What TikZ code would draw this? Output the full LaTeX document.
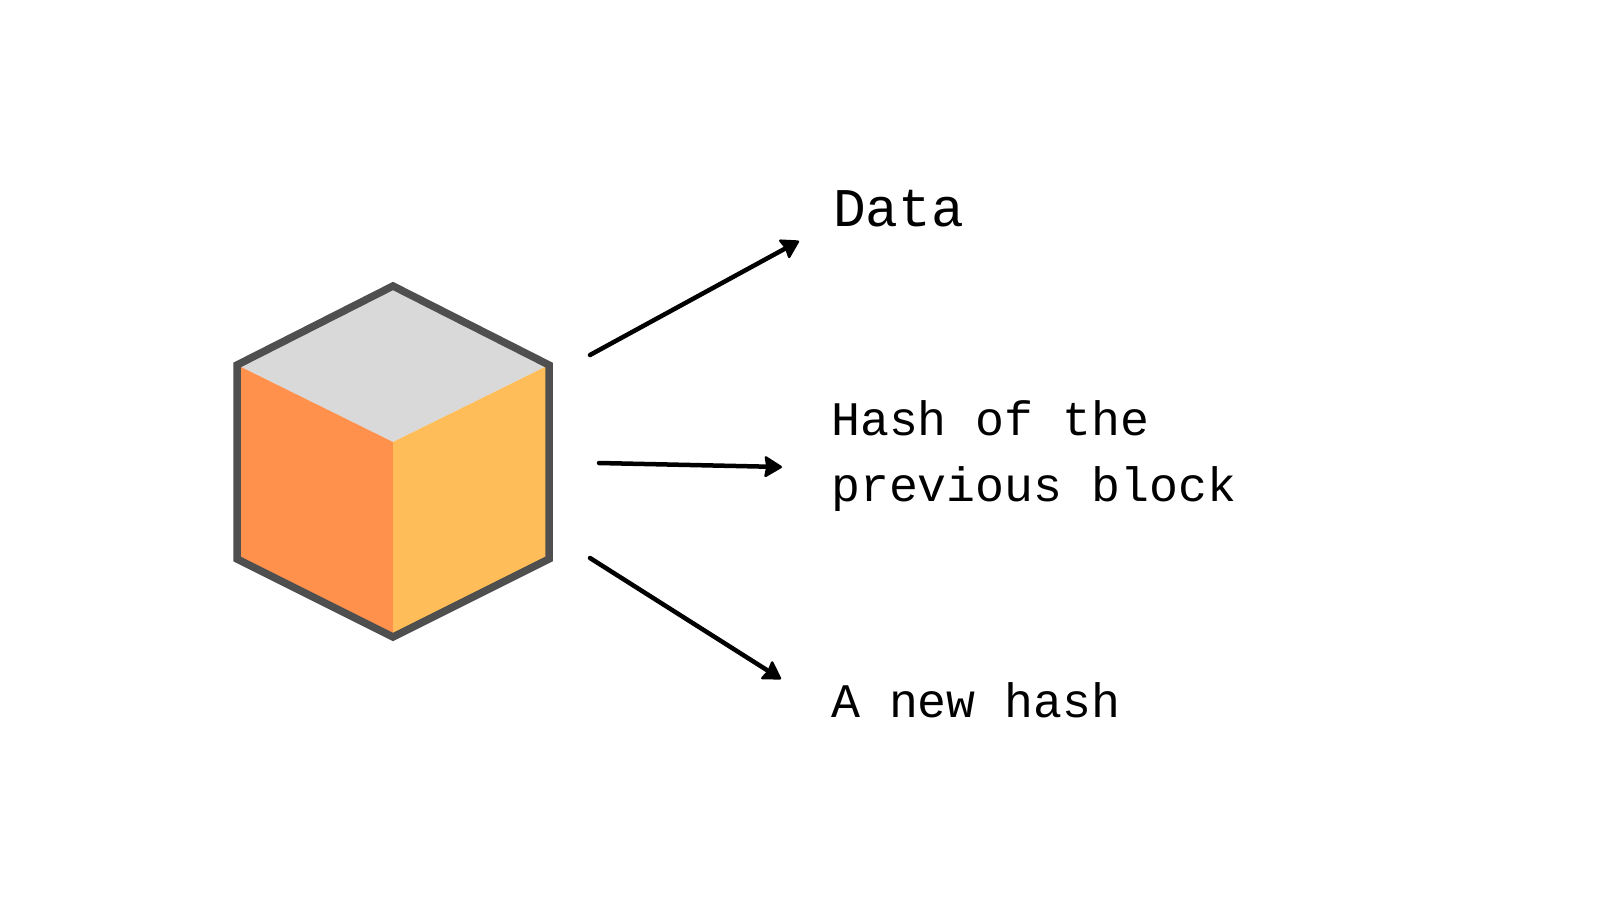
\documentclass[tikz,border=0pt]{standalone}
\usepackage{fontspec}
\setmonofont{Liberation Mono}
\usetikzlibrary{arrows.meta}
\definecolor{cubeleft}{HTML}{FF914D}
\definecolor{cuberight}{HTML}{FFBD59}
\definecolor{cubetop}{HTML}{D9D9D9}
\definecolor{cubeedge}{HTML}{4F4F4F}
\tikzset{
  x=1pt,y=-1pt,
  face/.style={draw=none},
  edgeline/.style={draw=cubeedge,line width=7.5pt,line join=miter},
  arrowline/.style={draw=black,line width=4.5pt,line cap=round,-{Stealth[length=19pt,width=23pt,inset=2pt,round,line width=2.5pt]}},
  bigtext/.style={anchor=base west,inner sep=0pt,font=\ttfamily\fontsize{54.5pt}{54pt}\selectfont},
  midtext/.style={anchor=base west,inner sep=0pt,font=\ttfamily\fontsize{48.2pt}{66pt}\selectfont},
}
\begin{document}
\begin{tikzpicture}
\useasboundingbox (0,0) rectangle (1600,900);
\fill[white] (0,0) rectangle (1600,900);
\coordinate (T) at (393,286);
\coordinate (L) at (237,365);
\coordinate (R) at (549,365);
\coordinate (C) at (393,442);
\coordinate (LL) at (237,559);
\coordinate (LR) at (549,559);
\coordinate (B) at (393,637);
\fill[cubetop,face] (T) -- (R) -- (C) -- (L) -- cycle;
\fill[cubeleft,face] (L) -- (C) -- (B) -- (LL) -- cycle;
\fill[cuberight,face] (R) -- (C) -- (B) -- (LR) -- cycle;
\draw[edgeline] (T) -- (R) -- (LR) -- (B) -- (LL) -- (L) -- cycle;
\coordinate (a1s) at (590,355);
\coordinate (a1e) at (799,241);
\coordinate (a2s) at (599,463);
\coordinate (a2e) at (782,467);
\coordinate (a3s) at (590,558);
\coordinate (a3e) at (781,679);
\draw[arrowline] (a1s) -- (a1e);
\draw[arrowline] (a2s) -- (a2e);
\draw[arrowline] (a3s) -- (a3e);
\node[bigtext] (data) at (833,226) {Data};
\node[midtext] (hash1) at (831,435) {Hash of the};
\node[midtext] (hash2) at (831,501) {previous block};
\node[midtext] (newhash) at (831,717) {A new hash};
\end{tikzpicture}
\end{document}
